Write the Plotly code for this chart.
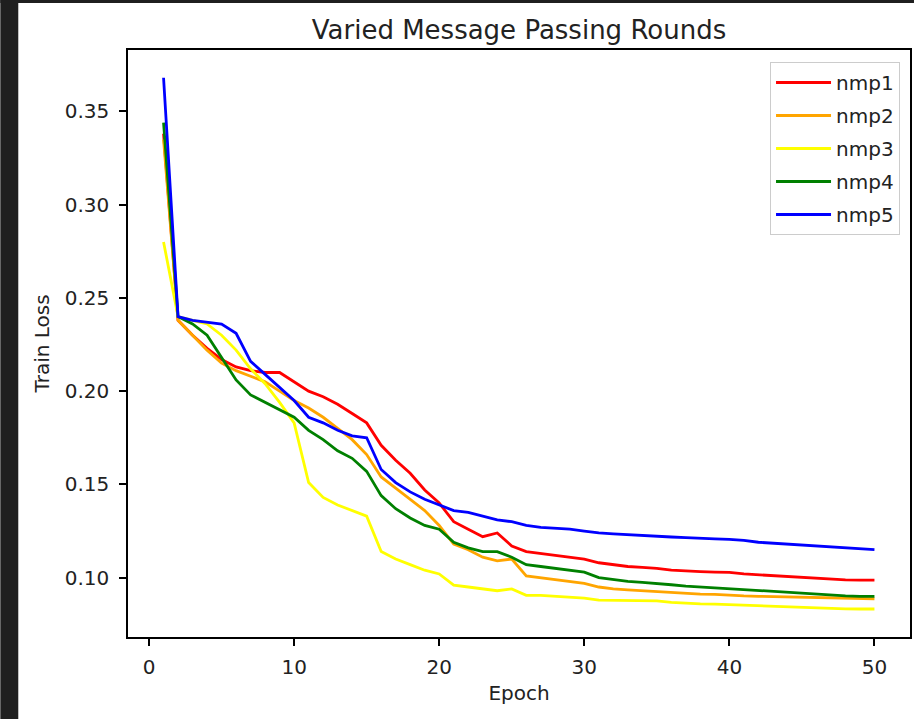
import plotly.graph_objects as go

epochs = list(range(1, 51))

nmp1 = [0.338, 0.238, 0.230, 0.223, 0.217, 0.213, 0.211, 0.210, 0.210, 0.205,
        0.200, 0.197, 0.193, 0.188, 0.183, 0.171, 0.163, 0.156, 0.147, 0.140,
        0.130, 0.126, 0.122, 0.124, 0.117, 0.114, 0.113, 0.112, 0.111, 0.110,
        0.108, 0.107, 0.106, 0.1055, 0.105, 0.104, 0.1035, 0.1033, 0.103, 0.1028,
        0.102, 0.1015, 0.101, 0.1005, 0.100, 0.0995, 0.099, 0.0988, 0.0987, 0.0987]
nmp2 = [0.335, 0.238, 0.230, 0.222, 0.215, 0.211, 0.208, 0.205, 0.200, 0.195,
        0.191, 0.186, 0.180, 0.174, 0.166, 0.154, 0.148, 0.142, 0.136, 0.128,
        0.118, 0.115, 0.111, 0.109, 0.110, 0.101, 0.100, 0.099, 0.098, 0.097,
        0.095, 0.094, 0.0935, 0.093, 0.0928, 0.0922, 0.0918, 0.0912, 0.091, 0.0905,
        0.0902, 0.090, 0.0898, 0.0895, 0.0893, 0.0892, 0.089, 0.089, 0.0888, 0.0887]
nmp3 = [0.280, 0.240, 0.238, 0.236, 0.230, 0.222, 0.212, 0.204, 0.194, 0.183,
        0.151, 0.143, 0.139, 0.136, 0.133, 0.114, 0.110, 0.107, 0.104, 0.102,
        0.096, 0.095, 0.094, 0.093, 0.094, 0.0905, 0.0905, 0.090, 0.0895, 0.089,
        0.088, 0.0878, 0.0877, 0.0877, 0.0876, 0.0868, 0.0862, 0.086, 0.0858, 0.0855,
        0.0852, 0.085, 0.0845, 0.0843, 0.084, 0.0837, 0.0835, 0.0833, 0.0832, 0.0832]
nmp4 = [0.344, 0.240, 0.236, 0.230, 0.218, 0.206, 0.198, 0.194, 0.190, 0.186,
        0.179, 0.174, 0.168, 0.164, 0.157, 0.144, 0.137, 0.132, 0.128, 0.126,
        0.119, 0.116, 0.114, 0.114, 0.111, 0.107, 0.106, 0.105, 0.104, 0.103,
        0.100, 0.099, 0.098, 0.0975, 0.097, 0.0962, 0.0955, 0.095, 0.0945, 0.094,
        0.0935, 0.093, 0.0925, 0.092, 0.0915, 0.091, 0.0905, 0.0903, 0.090, 0.090]
nmp5 = [0.368, 0.240, 0.238, 0.237, 0.236, 0.231, 0.216, 0.209, 0.202, 0.195,
        0.186, 0.183, 0.179, 0.176, 0.175, 0.158, 0.151, 0.146, 0.142, 0.139,
        0.136, 0.135, 0.133, 0.131, 0.130, 0.128, 0.127, 0.1265, 0.126, 0.125,
        0.124, 0.1235, 0.123, 0.1225, 0.122, 0.1218, 0.1215, 0.121, 0.1208, 0.1205,
        0.120, 0.119, 0.1185, 0.118, 0.1175, 0.117, 0.1165, 0.116, 0.1155, 0.115]

series_names = ["nmp1", "nmp2", "nmp3", "nmp4", "nmp5"]
series_values = [nmp1, nmp2, nmp3, nmp4, nmp5]
series_colors = ["red", "orange", "yellow", "green", "blue"]

x_ticks = [0, 10, 20, 30, 40, 50]
y_ticks = [0.10, 0.15, 0.20, 0.25, 0.30, 0.35]

FONT = "DejaVu Sans, sans-serif"

fig = go.Figure()
for name, vals, col in zip(series_names, series_values, series_colors):
    fig.add_trace(go.Scatter(x=epochs, y=vals, mode="lines", name=name,
                             legendgroup=name,
                             line=dict(color=col, width=2.8)))

W, H = 916, 719
L, R, T, B = 128, 4, 50, 82
pw, ph = W - L - R, H - T - B

def px_x(p):
    return (p - L) / pw

def px_y(p):
    return (H - B - p) / ph

dark = "#1f1f1f"
shapes = [
    dict(type="rect", xref="paper", yref="paper", x0=px_x(0), x1=px_x(18),
         y0=px_y(H), y1=px_y(0), fillcolor=dark, line=dict(width=0), layer="above"),
    dict(type="rect", xref="paper", yref="paper", x0=px_x(0), x1=px_x(W),
         y0=px_y(3), y1=px_y(0), fillcolor=dark, line=dict(width=0), layer="above"),
]

axis_common = dict(showgrid=False, zeroline=False, showline=True, mirror=True,
                   linecolor="black", linewidth=1.6, ticks="outside", ticklen=7,
                   tickwidth=1.6, tickcolor="black",
                   tickfont=dict(family=FONT, size=20, color="#222"))

fig.update_layout(
    width=W, height=H,
    margin=dict(l=L, r=R, t=T, b=B, pad=0),
    paper_bgcolor="white", plot_bgcolor="white",
    font=dict(family=FONT, color="#222"),
    title=dict(text="Varied Message Passing Rounds", x=0.5, xref="paper",
               y=1 - 30 / H, yref="container", xanchor="center", yanchor="middle",
               font=dict(family=FONT, size=26, color="#222")),
    xaxis=dict(range=[-1.45, 52.45], tickvals=x_ticks, ticklabelstandoff=4,
               title=dict(text="Epoch", font=dict(family=FONT, size=20, color="#222"),
                          standoff=8),
               **axis_common),
    yaxis=dict(range=[0.0682, 0.3829], tickvals=y_ticks, tickformat=".2f",
               ticklabelstandoff=6,
               title=dict(text="Train Loss", font=dict(family=FONT, size=20, color="#222"),
                          standoff=10),
               **axis_common),
    legend=dict(x=px_x(902), y=px_y(62), xanchor="right", yanchor="top",
                bgcolor="white", bordercolor="#cccccc", borderwidth=1,
                itemwidth=55, tracegroupgap=4,
                font=dict(family=FONT, size=20, color="#222")),
    shapes=shapes,
)

fig.write_html("out.html")
